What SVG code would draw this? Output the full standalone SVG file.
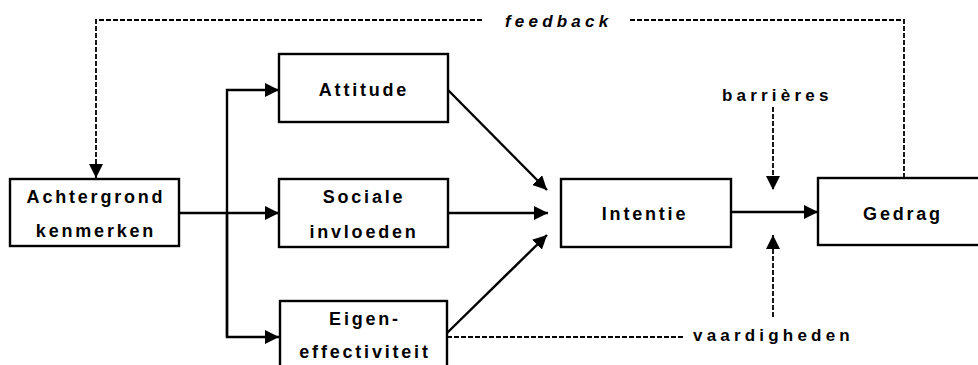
<svg xmlns="http://www.w3.org/2000/svg" width="978" height="365" viewBox="0 0 978 365">
  <style>
    .box { fill: #ffffff; stroke: #000000; stroke-width: 2.4; }
    .lbl { font-family: "Liberation Sans", Arial, sans-serif; font-weight: bold; font-size: 18px; letter-spacing: 2.8px; fill: #000000; text-anchor: middle; }
    .note { font-family: "Liberation Sans", Arial, sans-serif; font-weight: bold; font-size: 17px; letter-spacing: 4.2px; fill: #000000; }
    .solid { fill: none; stroke: #000000; stroke-width: 2.4; }
    .dash { fill: none; stroke: #000000; stroke-width: 1.8; stroke-dasharray: 5 2; }
  </style>
  <defs>
    <marker id="arrow" markerUnits="userSpaceOnUse" markerWidth="16" markerHeight="16" refX="14" refY="7" orient="auto">
      <path d="M0,0 L14,7 L0,14 Z" fill="#000000"/>
    </marker>
  </defs>

  <rect width="978" height="365" fill="#ffffff"/>

  <!-- connectors -->
  <g id="connectors">
    <!-- background characteristics to the three determinants -->
    <path class="solid" d="M179,213 H279" marker-end="url(#arrow)"/>
    <path class="solid" d="M227,337 V90 H279" marker-end="url(#arrow)"/>
    <path class="solid" d="M227,213 V337 H279" marker-end="url(#arrow)"/>
    <!-- determinants to intention -->
    <path class="solid" d="M448,90 L547,190" marker-end="url(#arrow)"/>
    <path class="solid" d="M448,213 H548" marker-end="url(#arrow)"/>
    <path class="solid" d="M447,333 L547,235" marker-end="url(#arrow)"/>
    <!-- intention to behaviour -->
    <path class="solid" d="M731,212 H818" marker-end="url(#arrow)"/>
    <!-- barriers and skills -->
    <path class="dash" d="M773,107 V190" marker-end="url(#arrow)"/>
    <path class="dash" d="M773,317 V235" marker-end="url(#arrow)"/>
    <path class="dash" d="M447,337 H683"/>
    <!-- feedback loop -->
    <path class="dash" d="M904,178 V20 H628"/>
    <path class="dash" d="M482,20 H96 V178" marker-end="url(#arrow)"/>
  </g>

  <g id="achtergrond">
    <rect class="box" x="10" y="179" width="169" height="67"/>
    <text class="lbl" x="96" y="203">Achtergrond</text>
    <text class="lbl" x="96" y="237">kenmerken</text>
  </g>

  <g id="attitude">
    <rect class="box" x="279" y="54" width="169" height="68"/>
    <text class="lbl" x="364" y="96">Attitude</text>
  </g>

  <g id="sociale-invloeden">
    <rect class="box" x="279" y="179" width="169" height="68"/>
    <text class="lbl" x="364" y="203">Sociale</text>
    <text class="lbl" x="364" y="238">invloeden</text>
  </g>

  <g id="eigen-effectiviteit">
    <rect class="box" x="280" y="301" width="167" height="80"/>
    <text class="lbl" x="365" y="325">Eigen-</text>
    <text class="lbl" x="365" y="358">effectiviteit</text>
  </g>

  <g id="intentie">
    <rect class="box" x="561" y="179" width="170" height="68"/>
    <text class="lbl" x="645" y="220">Intentie</text>
  </g>

  <g id="gedrag">
    <rect class="box" x="818" y="178" width="170" height="67"/>
    <text class="lbl" x="903" y="220" letter-spacing="3.8">Gedrag</text>
  </g>

  <g id="labels">
    <text class="note" x="505" y="27" font-style="italic">feedback</text>
    <text class="note" x="722" y="101" letter-spacing="3.5">barrières</text>
    <text class="note" x="693" y="341">vaardigheden</text>
  </g>
</svg>
